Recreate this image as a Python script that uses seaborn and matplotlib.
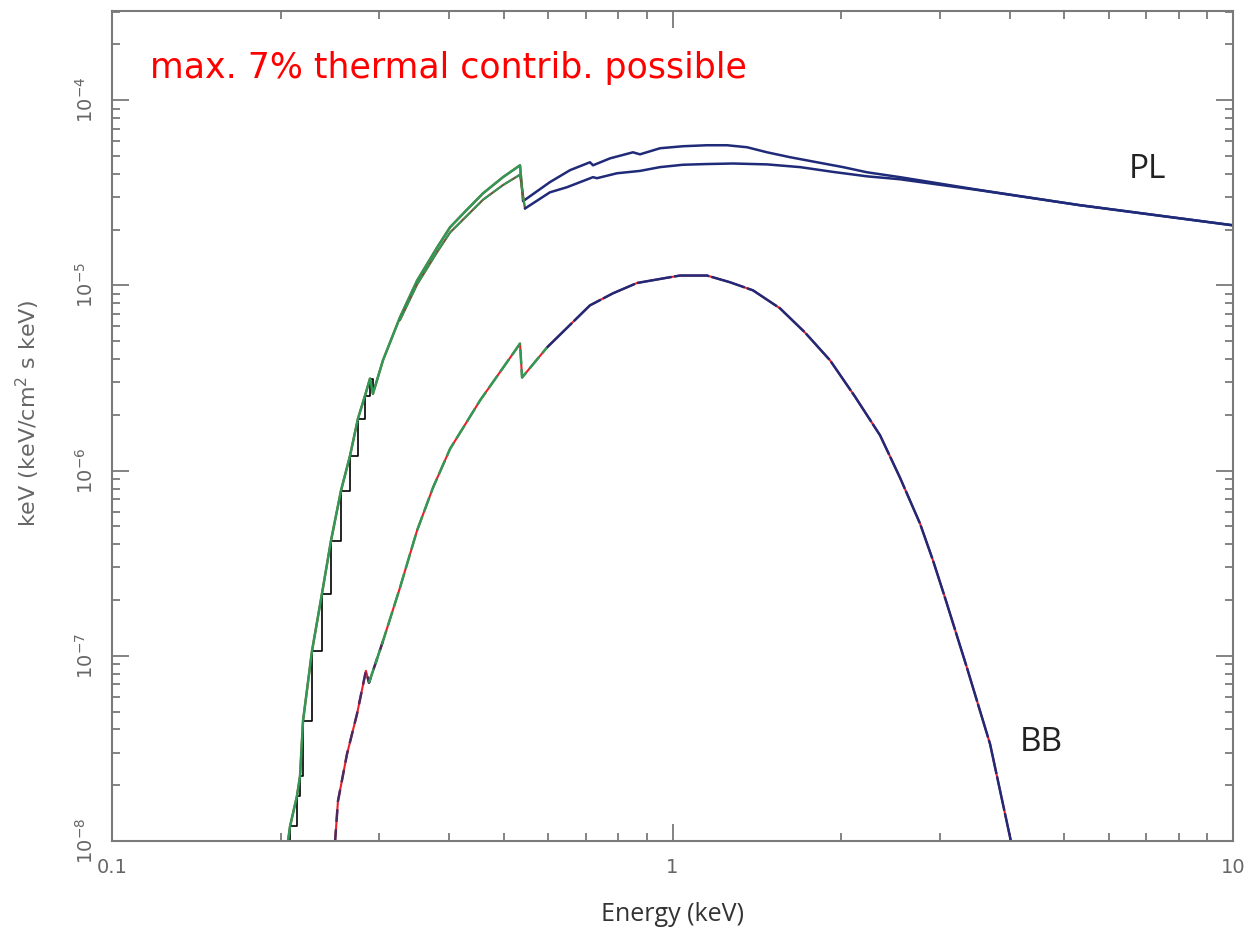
import numpy as np
import pandas as pd
import matplotlib
matplotlib.use("Agg")
import matplotlib.pyplot as plt
import seaborn as sns
from matplotlib.ticker import LogLocator, NullFormatter

# ---- data (energy in keV, flux in keV (keV/cm^2 s keV)) ----
energy_total = [0.206, 0.2078, 0.2138, 0.2165, 0.2192, 0.2274, 0.2369, 0.2459, 0.2562, 0.2658,
                0.2747, 0.2828, 0.2886, 0.2921, 0.3044, 0.3264, 0.3501, 0.3801, 0.401, 0.4264,
                0.4591, 0.4984, 0.5345, 0.5413, 0.6044, 0.6566, 0.7124, 0.7215, 0.7735, 0.850,
                0.875, 0.950, 1.044, 1.152, 1.251, 1.358, 1.475, 1.621, 1.811, 2.015,
                2.223, 2.546, 3.538, 5.33, 10.0]
flux_total = [9.9e-9, 1.2e-8, 1.75e-8, 2.24e-8, 4.46e-8, 1.06e-7, 2.16e-7, 4.19e-7, 7.8e-7, 1.2e-6,
              1.91e-6, 2.54e-6, 3.14e-6, 2.6e-6, 3.94e-6, 6.72e-6, 1.06e-5, 1.6e-5, 2.06e-5, 2.5e-5,
              3.14e-5, 3.84e-5, 4.45e-5, 2.85e-5, 3.61e-5, 4.19e-5, 4.62e-5, 4.45e-5, 4.85e-5, 5.23e-5,
              5.1e-5, 5.5e-5, 5.64e-5, 5.71e-5, 5.71e-5, 5.57e-5, 5.23e-5, 4.92e-5, 4.62e-5, 4.35e-5,
              4.08e-5, 3.84e-5, 3.27e-5, 2.71e-5, 2.11e-5]

energy_pl = [0.3264, 0.3501, 0.3801, 0.401, 0.4591, 0.4984, 0.5345, 0.5455, 0.6044, 0.6485,
             0.7215, 0.7331, 0.796, 0.875, 0.950, 1.044, 1.152, 1.282, 1.475, 1.689,
             1.933, 2.223, 2.546, 3.538, 5.33, 10.0]
flux_pl = [6.49e-6, 1.01e-5, 1.51e-5, 1.93e-5, 2.9e-5, 3.48e-5, 3.96e-5, 2.6e-5, 3.18e-5, 3.39e-5,
           3.84e-5, 3.79e-5, 4.03e-5, 4.15e-5, 4.35e-5, 4.48e-5, 4.52e-5, 4.55e-5, 4.5e-5, 4.35e-5,
           4.1e-5, 3.88e-5, 3.74e-5, 3.26e-5, 2.71e-5, 2.11e-5]

energy_bb = [0.25, 0.253, 0.2626, 0.2736, 0.2838, 0.2874, 0.3044, 0.3264, 0.3501, 0.3739,
             0.401, 0.4535, 0.5193, 0.5345, 0.539, 0.5971, 0.7124, 0.783, 0.8643, 0.9616,
             1.031, 1.152, 1.266, 1.392, 1.555, 1.723, 1.91, 2.116, 2.346, 2.546,
             2.764, 2.916, 3.063, 3.353, 3.686, 4.018]
flux_bb = [9.9e-9, 1.64e-8, 2.95e-8, 4.85e-8, 8.3e-8, 7.15e-8, 1.2e-7, 2.33e-7, 4.74e-7, 8.1e-7,
           1.31e-6, 2.39e-6, 4.28e-6, 4.85e-6, 3.18e-6, 4.62e-6, 7.8e-6, 9.06e-6, 1.03e-5, 1.09e-5,
           1.13e-5, 1.13e-5, 1.04e-5, 9.4e-6, 7.52e-6, 5.57e-6, 3.94e-6, 2.51e-6, 1.55e-6, 9.16e-7,
           5.18e-7, 3.27e-7, 2.06e-7, 8.6e-8, 3.34e-8, 9.9e-9]

x_ticks = [0.1, 1, 10]
x_tick_labels = ["0.1", "1", "10"]
y_ticks = [1e-8, 1e-7, 1e-6, 1e-5, 1e-4]
y_tick_labels = [r"$10^{-8}$", r"$10^{-7}$", r"$10^{-6}$", r"$10^{-5}$", r"$10^{-4}$"]
annotation = "max. 7% thermal contrib. possible"
x_label = "Energy (keV)"
y_label = r"keV (keV/cm$^2$ s keV)"
component_labels = ["PL", "BB"]

total = pd.DataFrame({"E": energy_total, "F": flux_total})
pl = pd.DataFrame({"E": energy_pl, "F": flux_pl})
bb = pd.DataFrame({"E": energy_bb, "F": flux_bb})

GREEN = "#2f9a55"
NAVY = "#1f2a78"
RED = "#e8202a"
PURPLE = "#4a2a60"
AXC = "#7a7a7a"

sns.set_theme(style="ticks")
plt.rcParams["font.family"] = ["DejaVu Sans"]

fig = plt.figure(figsize=(12.5, 9.38), dpi=100)
ax = fig.add_axes([112 / 1250, 1 - 841 / 938, 1121 / 1250, 830 / 938])
ax.set_xscale("log")
ax.set_yscale("log")

def line(df, color, lw=1.8, ls="-", **kw):
    sns.lineplot(data=df, x="E", y="F", ax=ax, color=color, lw=lw, ls=ls,
                 estimator=None, sort=False, legend=False, **kw)

# --- total (PL + BB) ---
lo_t = total[total.E <= 0.5413]
hi_t = total[total.E >= 0.5413]
line(lo_t, RED, lw=1.6)
line(total[total.E <= 0.2921], "black", lw=1.2, drawstyle="steps-post")
line(lo_t, GREEN, lw=1.8)
line(hi_t, NAVY, lw=1.8)

# --- PL alone ---
lo_p = pl[pl.E <= 0.5455]
hi_p = pl[pl.E >= 0.5455]
line(lo_p, "#6b5a3a", lw=1.6)
line(lo_p, GREEN, lw=1.2, ls=(0, (6, 2)))
line(hi_p, NAVY, lw=1.8)

# --- BB alone (dashed) ---
line(bb, RED, lw=1.5)
line(bb[bb.E <= 0.3044], PURPLE, lw=1.8, ls=(0, (5, 3)))
line(bb[(bb.E >= 0.2874) & (bb.E <= 0.5971)], GREEN, lw=1.8, ls=(0, (6, 2)))
line(bb[bb.E >= 0.5971], NAVY, lw=1.8, ls=(0, (14, 1)))

ax.set_xticks(x_ticks, labels=x_tick_labels)
ax.xaxis.set_minor_locator(LogLocator(base=10, subs=np.arange(2, 10)))
ax.xaxis.set_minor_formatter(NullFormatter())
ax.set_yticks(y_ticks, labels=y_tick_labels)
ax.yaxis.set_minor_locator(LogLocator(base=10, subs=np.arange(2, 10), numticks=20))
ax.yaxis.set_minor_formatter(NullFormatter())
ax.set_xlim(0.1, 10)
ax.set_ylim(1e-8, 3.03e-4)

ax.tick_params(which="both", direction="in", top=True, right=True, color=AXC, width=1.3,
               labelcolor="#666666", labelsize=14)
ax.tick_params(which="major", length=12)
ax.tick_params(which="minor", length=6)
ax.tick_params(axis="x", pad=12)
ax.tick_params(axis="y", pad=11)
for lab in ax.get_yticklabels():
    lab.set_rotation(90)
    lab.set_va("center")
for sp in ax.spines.values():
    sp.set_color(AXC)
    sp.set_linewidth(1.5)

ax.set_xlabel(x_label, fontsize=18, color="#333333", family="Open Sans")
ax.xaxis.set_label_coords(0.5, -(902 - 841) / 830)
ax.set_ylabel(y_label, fontsize=16, color="#666666")
ax.yaxis.set_label_coords(-(112 - 42) / 1121, 0.515)

ax.text(7.03, 4.2e-5, component_labels[0], fontsize=24, color="#222222", family="Open Sans",
        ha="center", va="center")
ax.text(4.55, 3.39e-8, component_labels[1], fontsize=24, color="#222222", family="Open Sans",
        ha="center", va="center")

fig.text(150 / 1250, 1 - 78 / 938, annotation, fontsize=25, color="red", va="baseline", ha="left")

fig.savefig("out.png", dpi=100)
